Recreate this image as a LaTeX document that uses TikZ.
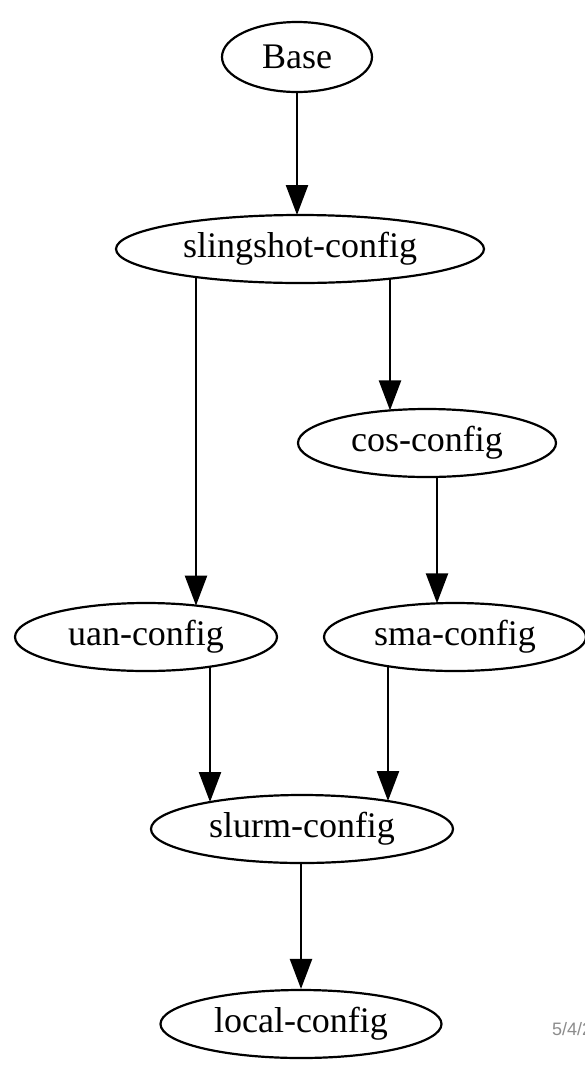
\documentclass[tikz,border=0pt]{standalone}
\usepackage{fontspec}
\newfontfamily\labelfont{Liberation Serif}
\newfontfamily\datefont{Liberation Sans}
\usetikzlibrary{arrows.meta,shapes.geometric}
\begin{document}
\begin{tikzpicture}[x=1pt,y=-1pt,
  cfg/.style={draw,ellipse,line width=2.2pt,inner sep=0pt,
    minimum height=68pt,font=\labelfont\fontsize{36}{40}\selectfont},
  edge/.style={line width=2.4pt,-{Triangle[length=30pt,width=22pt]}}]
\useasboundingbox (0,0) rectangle (585,1072);
\clip (0,0) rectangle (585,1072);
\fill[white] (0,0) rectangle (585,1072);

% configuration layers
\node[cfg,minimum width=150pt,minimum height=70pt] (base) at (297,57) {Base};
\node[cfg,minimum width=368pt] (sling) at (300,249) {slingshot-config};
\node[cfg,minimum width=258pt] (cos) at (427,443) {cos-config};
\node[cfg,minimum width=262pt] (uan) at (146,637) {uan-config};
\node[cfg,minimum width=262pt] (sma) at (455,637) {sma-config};
\node[cfg,minimum width=302pt] (slurm) at (302,829) {slurm-config};
\node[cfg,minimum width=281pt] (local) at (301,1024) {local-config};

% dependencies (vertical runs between ellipse borders)
\draw[edge] (base.south) -- ([shift={(-3,-34)}]sling.center);
\draw[edge] ([shift={(-104,28)}]sling.center) -- ([shift={(50,-31.4)}]uan.center);
\draw[edge] ([shift={(90,29.6)}]sling.center) -- ([shift={(-37,-32.6)}]cos.center);
\draw[edge] ([shift={(10,33.9)}]cos.center) -- ([shift={(-18,-33.7)}]sma.center);
\draw[edge] ([shift={(64,29.7)}]uan.center) -- ([shift={(-92,-27)}]slurm.center);
\draw[edge] ([shift={(-67,29.2)}]sma.center) -- ([shift={(86,-28)}]slurm.center);
\draw[edge] ([shift={(-1,34)}]slurm.center) -- (local.north);

% date stamp
\node[anchor=base west,inner sep=0pt,text=black!45,
  font=\datefont\fontsize{18}{20}\selectfont] (date) at (552,1035) {5/4/2};
\end{tikzpicture}
\end{document}
